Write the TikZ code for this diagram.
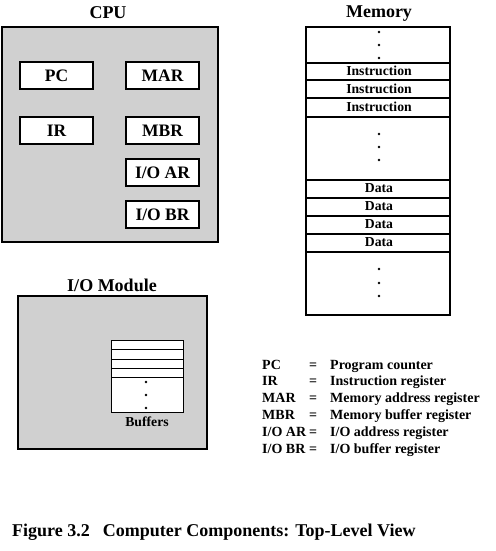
\documentclass[tikz,border=0pt]{standalone}
\usepackage{fontspec}
\setmainfont{Liberation Serif}[BoldFont={Liberation Serif Bold}]
\definecolor{boxgray}{RGB}{208,208,208}
\begin{document}
\begin{tikzpicture}[x=1pt,y=-1pt,
  title/.style={font=\fontsize{18}{20}\selectfont\bfseries},
  regbox/.style={draw=black,line width=1.5pt,fill=white,minimum width=73pt,minimum height=27pt,inner sep=0pt,font=\fontsize{17.5}{19}\selectfont\bfseries},
  bigbox/.style={draw=black,line width=2.2pt,fill=boxgray},
  memtext/.style={font=\fontsize{13.7}{15}\selectfont\bfseries,inner sep=0pt},
  legtext/.style={font=\fontsize{14}{16}\selectfont\bfseries,anchor=base west,inner sep=0pt},
  dotmark/.style={circle,fill=black,inner sep=0pt,minimum size=2.8pt}
]
\useasboundingbox (0,0) rectangle (495,551);
% CPU
\node[title] (cputitle) at (108,13) {CPU};
\draw[bigbox] (2,27) rectangle (218,242);
\node[regbox] (pc) at (56.5,75.5) {PC};
\node[regbox] (mar) at (162.5,75.5) {MAR};
\node[regbox] (ir) at (56.5,130.5) {IR};
\node[regbox] (mbr) at (162.5,130.5) {MBR};
\node[regbox] (ioar) at (162.5,172.5) {I/O AR};
\node[regbox] (iobr) at (162.5,214.5) {I/O BR};
% Memory
\node[title] (memtitle) at (379,14) {Memory};
\draw[line width=2pt] (306,27) rectangle (450,315);
\foreach \yy in {63,80,98,117,180,198,216,234,252}
  \draw[line width=2pt] (306,\yy) -- (450,\yy);
\foreach \yy in {32,45,58,134,147,160,269,283,296}
  \node[dotmark] at (379,\yy) {};
\node[memtext] (ins1) at (379,71) {Instruction};
\node[memtext] (ins2) at (379,88.5) {Instruction};
\node[memtext] (ins3) at (379,106.5) {Instruction};
\node[memtext] (d1) at (379,188.5) {Data};
\node[memtext] (d2) at (379,206.5) {Data};
\node[memtext] (d3) at (379,224.5) {Data};
\node[memtext] (d4) at (379,242.5) {Data};
% I/O module
\node[title] (iotitle) at (112,285) {I/O Module};
\draw[bigbox] (18,296) rectangle (207,449);
\draw[line width=1pt,fill=white] (111,340) rectangle (183,412);
\foreach \yy in {349,359,368,377}
  \draw[line width=1pt] (111,\yy) -- (183,\yy);
\foreach \yy in {382,395,408}
  \node[dotmark,minimum size=2.6pt] at (146,\yy) {};
\node[memtext] (buffers) at (147,422) {Buffers};
% Legend
\foreach \yy/\ab/\desc [count=\i] in {369/PC/Program counter,385.8/IR/Instruction register,402.6/MAR/Memory address register,419.4/MBR/Memory buffer register,436.2/I\slash O AR/I\slash O address register,453/I\slash O BR/I\slash O buffer register}{
  \node[legtext] (ab\i) at (262,\yy) {\ab};
  \node[legtext,anchor=base] (eq\i) at (313,\yy) {=};
  \node[legtext] (de\i) at (330,\yy) {\desc};
}
% Caption
\node[font=\fontsize{18}{20}\selectfont\bfseries,anchor=base west,inner sep=0pt] (caption) at (12,536) {Figure 3.2\hspace{13pt}Computer Components: Top-Level View};
\end{tikzpicture}
\end{document}
